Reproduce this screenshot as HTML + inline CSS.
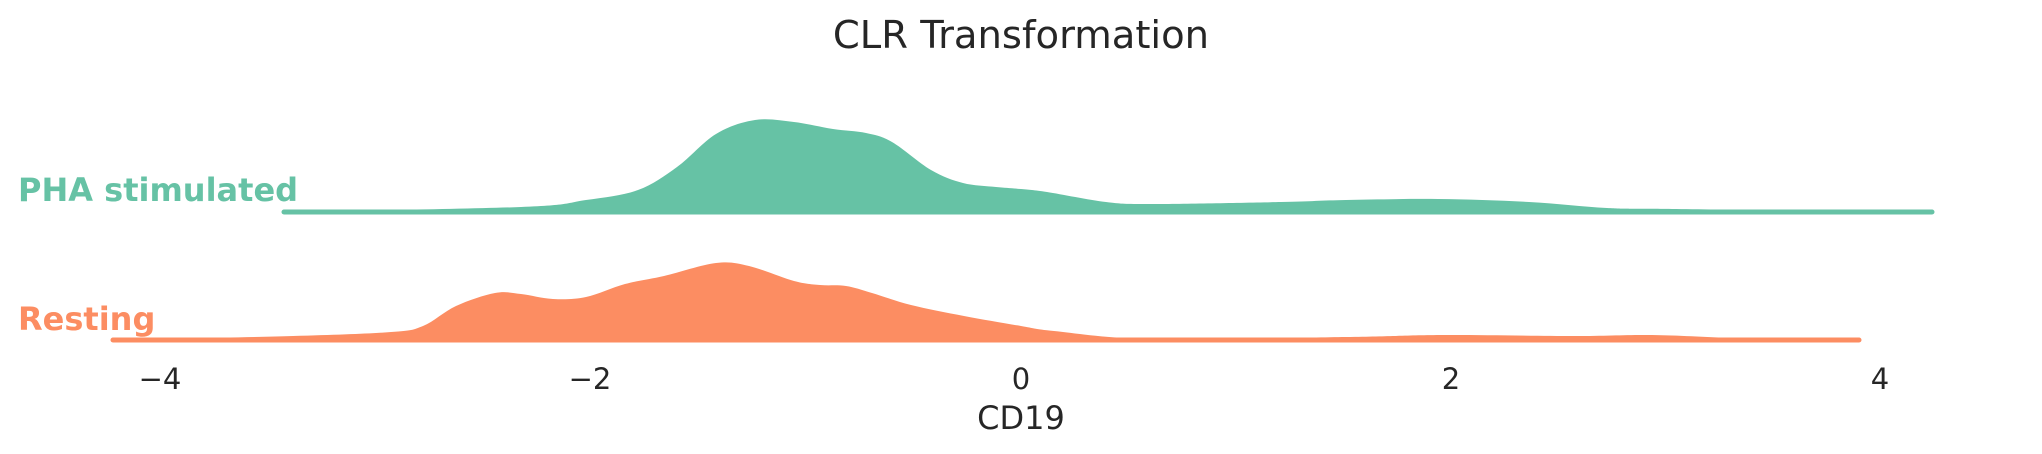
<!DOCTYPE html>
<html><head><style>
html,body{margin:0;padding:0;background:#fff;}
svg{display:block;}
text{font-family:"DejaVu Sans","Liberation Sans",sans-serif;}
</style></head><body>
<svg id="s" width="2042" height="454" viewBox="0 0 2042 454" xmlns="http://www.w3.org/2000/svg">
<rect width="2042" height="454" fill="#fff"/>
<text x="1021" y="48" font-size="38.5" fill="#262626" text-anchor="middle">CLR Transformation</text>

<path id="pha" fill="#66c2a5" d=""/>
<line x1="284" y1="212" x2="1932" y2="212" stroke="#66c2a5" stroke-width="5" stroke-linecap="round"/>
<text x="18" y="201" font-size="32" font-weight="bold" fill="#66c2a5">PHA stimulated</text>

<path id="rest" fill="#fc8d62" d=""/>
<line x1="113" y1="340" x2="1859" y2="340" stroke="#fc8d62" stroke-width="5" stroke-linecap="round"/>
<text x="18" y="330" font-size="32" font-weight="bold" fill="#fc8d62">Resting</text>

<g font-size="29" fill="#262626" text-anchor="middle">
<text x="160" y="389">−4</text>
<text x="590" y="389">−2</text>
<text x="1021" y="389">0</text>
<text x="1451" y="389">2</text>
<text x="1880" y="389">4</text>
</g>
<text x="1021" y="429" font-size="32" fill="#262626" text-anchor="middle">CD19</text>
</svg>
<script>
function smooth(pts){
  var d="M"+pts[0][0]+","+pts[0][1];
  for(var i=0;i<pts.length-1;i++){
    var p0=pts[Math.max(0,i-1)],p1=pts[i],p2=pts[i+1],p3=pts[Math.min(pts.length-1,i+2)];
    var c1x=p1[0]+(p2[0]-p0[0])/6,c1y=p1[1]+(p2[1]-p0[1])/6;
    var c2x=p2[0]-(p3[0]-p1[0])/6,c2y=p2[1]-(p3[1]-p1[1])/6;
    d+=" C"+c1x+","+c1y+" "+c2x+","+c2y+" "+p2[0]+","+p2[1];
  }
  return d+" Z";
}
var pha=[[282,212],[521,207],[586,200],[638,190],[677,167],[716,134],[755,120],[794,122],[833,129],[866,133],[892,142],[931,170],[963,183],[996,187],[1021,189],[1047,192],[1106,202],[1151,204],[1281,202],[1346,200],[1438,199],[1529,202],[1607,208],[1672,209],[1932,212]];
var rest=[[111,340],[293,336],[391,332],[423,326],[456,306],[495,293],[521,294],[553,299],[586,297],[625,284],[664,276],[716,263],[749,266],[794,281],[820,285],[846,286],[872,293],[911,305],[964,316],[1021,326],[1054,331],[1151,339],[1346,337],[1444,335],[1574,336],[1652,335],[1737,338],[1861,340]];
document.getElementById("pha").setAttribute("d",smooth(pha));
document.getElementById("rest").setAttribute("d",smooth(rest));
</script>
</body></html>
